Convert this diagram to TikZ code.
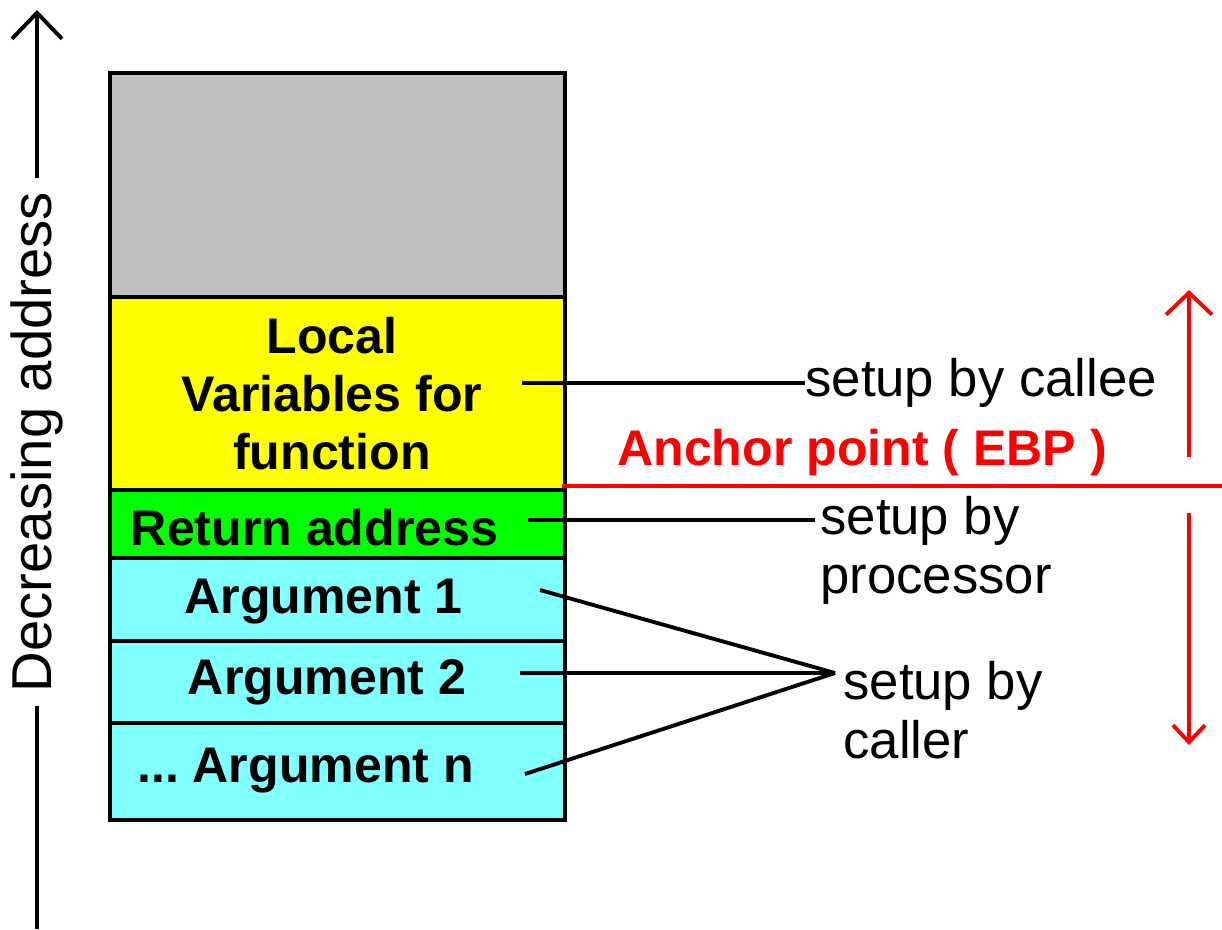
\documentclass[tikz,border=0pt]{standalone}
\usepackage{fontspec}
\setmainfont{Liberation Sans}
\usetikzlibrary{arrows.meta, positioning}

\definecolor{freegray}{HTML}{C0C0C0}
\definecolor{localyellow}{HTML}{FFFF00}
\definecolor{retgreen}{HTML}{00FF00}
\definecolor{argcyan}{HTML}{80FFFF}
\definecolor{ebpred}{HTML}{FF0000}

\begin{document}
\begin{tikzpicture}[
    x=0.02cm, y=-0.02cm,
    node distance=0pt,
    cell/.style={rectangle, draw, line width=2.2pt, minimum width=9.1cm, inner sep=0pt, outer sep=0pt},
    celltext/.style={font=\bfseries\fontsize{28.5}{33}\selectfont, inner sep=0pt, anchor=base},
    note/.style={font=\fontsize{30}{33.5}\selectfont, inner sep=0pt, align=left},
    link/.style={line width=2.2pt},
    redline/.style={line width=2.2pt, draw=ebpred}
]
\useasboundingbox (0,0) rectangle (1222,929);

% Stack frame
\node[cell, fill=freegray, minimum height=4.48cm] (free) at (337.5,185) {};
\node[cell, fill=localyellow, minimum height=3.86cm, below=of free] (locals) {};
\node[cell, fill=retgreen, minimum height=1.36cm, below=of locals] (ret) {};
\node[cell, fill=argcyan, minimum height=1.66cm, below=of ret] (arg1) {};
\node[cell, fill=argcyan, minimum height=1.64cm, below=of arg1] (arg2) {};
\node[cell, fill=argcyan, minimum height=1.94cm, below=of arg2] (argn) {};

% Cell labels
\node[celltext, anchor=north, align=center] (localtxt) at (332,317) {Local\\Variables for\\function};
\node[celltext] (rettxt) at (314.5,545) {Return address};
\node[celltext] (arg1txt) at (323.5,613) {Argument 1};
\node[celltext] (arg2txt) at (327,694) {Argument 2};
\node[celltext] (argntxt) at (305.5,782) {...\ Argument n};

% Notes
\node[note, anchor=west] (callee) at (805,383) {setup by callee};
\node[note, anchor=north west] (proc) at (820,496) {setup by\\processor};
\node[note, anchor=north west] (caller) at (843,661) {setup by\\caller};

% Connectors
\coordinate (lvfrom) at (522,383);
\coordinate (retfrom) at (528,520);
\coordinate (arg1from) at (540,590);
\coordinate (arg2from) at (520,673);
\coordinate (argnfrom) at (525,774);
\coordinate (procjoin) at (815,520);
\coordinate (callerjoin) at (835,673);
\draw[link] (lvfrom) -- (callee.west);
\draw[link] (retfrom) -- (procjoin);
\draw[link] (arg1from) -- (callerjoin);
\draw[link] (arg2from) -- (callerjoin);
\draw[link] (argnfrom) -- (callerjoin);

% Anchor point
\node[font=\bfseries\fontsize{28.5}{33}\selectfont, text=ebpred, inner sep=0pt, anchor=base west] (ebptxt) at (617,465) {Anchor point ( EBP )};
\coordinate (ebpleft) at (562,486);
\coordinate (ebpright) at (1222,486);
\coordinate (upfrom) at (1189,457);
\coordinate (upto) at (1189,290);
\coordinate (downfrom) at (1189,513);
\coordinate (downto) at (1189,745);
\draw[redline] (ebpleft) -- (ebpright);
\draw[redline, -{Straight Barb[length=0.44cm, width=0.92cm]}] (upfrom) -- (upto);
\draw[redline, -{Straight Barb[length=0.34cm, width=0.64cm]}] (downfrom) -- (downto);

% Address direction
\node[font=\fontsize{32}{34}\selectfont, rotate=90, inner sep=0.28cm] (dec) at (37,442) {Decreasing address};
\coordinate (dectop) at (37,10);
\coordinate (decbottom) at (37,929);
\draw[link, -{Straight Barb[length=0.52cm, width=1cm]}] (dec.east) -- (dectop);
\draw[link] (dec.west) -- (decbottom);

\end{tikzpicture}
\end{document}
